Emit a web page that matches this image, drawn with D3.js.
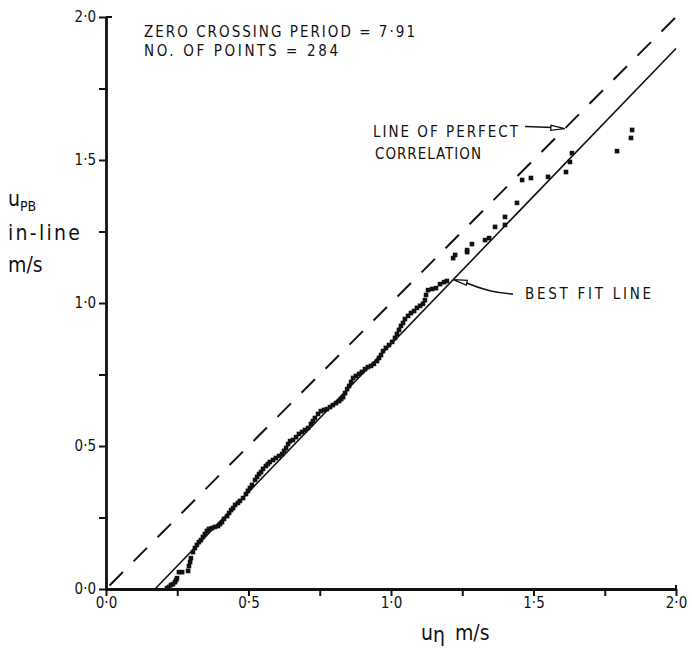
<!DOCTYPE html>
<html lang="en">
    <head>
        <meta charset="utf-8">
        <title>Particle velocity correlation</title>
        <script type="text/javascript" src="https://d3js.org/d3.v7.min.js"></script>
        <style>
            body {
                margin: 0;
                background: white;
            }
            text {
                font-family: "DejaVu Sans Condensed", "DejaVu Sans", sans-serif;
                fill: #111;
            }
            .axis path, .axis line {
                stroke: #111;
            }
            .axis path {
                stroke-width: 2.8;
            }
            .axis line {
                stroke-width: 2;
            }
            .axis text {
                font-size: 15px;
            }
            .perfectLine {
                stroke: #111;
                stroke-width: 2;
                stroke-dasharray: 19, 15;
                fill: none;
            }
            .fitLine {
                stroke: #111;
                stroke-width: 1.6;
                fill: none;
            }
            .note {
                font-size: 15px;
            }
        </style>
    </head>
    <body>
        <div id="svgContainer"></div>
        <script type="text/javascript">
            //svg size
            let w = 692;
            let h = 657;

            //measured velocity u_eta (m/s) and in-line PB velocity (m/s)
            let uEta = [0.214, 0.221, 0.228, 0.235, 0.242, 0.246, 0.249, 0.256, 0.267, 0.288,
                        0.291, 0.295, 0.298, 0.305, 0.312, 0.319, 0.326, 0.333, 0.340, 0.347,
                        0.354, 0.361, 0.372, 0.382, 0.393, 0.400, 0.407, 0.414, 0.425, 0.432,
                        0.439, 0.446, 0.453, 0.463, 0.470, 0.481, 0.491, 0.498, 0.505, 0.512,
                        0.523, 0.530, 0.537, 0.544, 0.551, 0.561, 0.568, 0.575, 0.586, 0.596,
                        0.607, 0.618, 0.625, 0.632, 0.639, 0.646, 0.656, 0.667, 0.677, 0.688,
                        0.698, 0.709, 0.719, 0.726, 0.733, 0.744, 0.754, 0.765, 0.775, 0.786,
                        0.796, 0.807, 0.818, 0.825, 0.832, 0.839, 0.846, 0.853, 0.860, 0.867,
                        0.877, 0.888, 0.898, 0.909, 0.919, 0.930, 0.940, 0.951, 0.958, 0.965,
                        0.972, 0.982, 0.993, 1.004, 1.014, 1.021, 1.028, 1.035, 1.042, 1.049,
                        1.060, 1.070, 1.081, 1.091, 1.102, 1.112, 1.119, 1.123, 1.130, 1.144,
                        1.158, 1.172, 1.186, 1.196, 1.218, 1.225, 1.267, 1.267, 1.284, 1.330,
                        1.344, 1.365, 1.400, 1.400, 1.442, 1.460, 1.491, 1.551, 1.614, 1.628,
                        1.635, 1.793, 1.842, 1.846];
            let uPB = [0.003, 0.007, 0.014, 0.017, 0.024, 0.031, 0.038, 0.059, 0.059, 0.063,
                       0.080, 0.094, 0.108, 0.129, 0.143, 0.154, 0.164, 0.171, 0.182, 0.192,
                       0.203, 0.210, 0.213, 0.217, 0.220, 0.227, 0.234, 0.245, 0.255, 0.266,
                       0.276, 0.283, 0.294, 0.301, 0.308, 0.318, 0.332, 0.343, 0.353, 0.364,
                       0.381, 0.392, 0.402, 0.409, 0.420, 0.430, 0.437, 0.444, 0.451, 0.458,
                       0.465, 0.472, 0.483, 0.493, 0.507, 0.517, 0.521, 0.531, 0.542, 0.549,
                       0.556, 0.563, 0.577, 0.587, 0.598, 0.612, 0.622, 0.626, 0.629, 0.636,
                       0.643, 0.650, 0.657, 0.664, 0.671, 0.685, 0.699, 0.710, 0.724, 0.738,
                       0.745, 0.752, 0.759, 0.769, 0.776, 0.780, 0.787, 0.797, 0.808, 0.818,
                       0.832, 0.843, 0.853, 0.864, 0.878, 0.892, 0.906, 0.920, 0.930, 0.944,
                       0.955, 0.965, 0.972, 0.983, 0.990, 0.997, 1.010, 1.028, 1.045, 1.049,
                       1.052, 1.066, 1.073, 1.077, 1.157, 1.168, 1.178, 1.185, 1.206, 1.220,
                       1.227, 1.266, 1.301, 1.273, 1.350, 1.430, 1.437, 1.441, 1.458, 1.493,
                       1.524, 1.531, 1.577, 1.605];

            //reference lines: perfect correlation and best fit (end points)
            let perfectLine = [[0, 0], [2, 2]];
            let fitLine = [[0.172, 0], [2, 1.89]];

            //tick values and labels
            let tickValues = [0, 0.25, 0.5, 0.75, 1, 1.25, 1.5, 1.75, 2];
            let tickLabels = {0: "0·0", 0.5: "0·5", 1: "1·0", 1.5: "1·5", 2: "2·0"};

            let dataset = uEta.map((d, i) => [d, uPB[i]]);

            let xScale = d3.scaleLinear().domain([0, 2]).range([106, 676]);
            let yScale = d3.scaleLinear().domain([0, 2]).range([589, 17]);

            let svg = d3.select("#svgContainer")
                        .append("svg")
                        .attr("width", w)
                        .attr("height", h);

            //axes
            let xAxis = d3.axisBottom(xScale)
                          .tickValues(tickValues)
                          .tickSize(7)
                          .tickSizeOuter(0)
                          .tickPadding(1)
                          .tickFormat(d => tickLabels[d] || "");
            let yAxis = d3.axisLeft(yScale)
                          .tickValues(tickValues)
                          .tickSize(7)
                          .tickSizeOuter(0)
                          .tickPadding(3)
                          .tickFormat(d => tickLabels[d] || "");

            svg.append("g")
                .attr("class", "axis")
                .attr("transform", `translate(0, ${yScale(0)})`)
                .call(xAxis);

            svg.append("g")
                .attr("class", "axis")
                .attr("transform", `translate(${xScale(0)}, 0)`)
                .call(yAxis);

            //short caps at the axis ends
            svg.append("line")
                .attr("x1", xScale(0)).attr("x2", xScale(0) + 6)
                .attr("y1", yScale(2)).attr("y2", yScale(2))
                .attr("stroke", "#111").attr("stroke-width", 2);
            svg.append("line")
                .attr("x1", xScale(2)).attr("x2", xScale(2))
                .attr("y1", yScale(0)).attr("y2", yScale(0) - 4)
                .attr("stroke", "#111").attr("stroke-width", 2);

            let line = d3.line().x(d => xScale(d[0])).y(d => yScale(d[1]));

            svg.append("path")
                .attr("class", "perfectLine")
                .attr("stroke-dashoffset", -5)
                .attr("d", line(perfectLine));

            svg.append("path")
                .attr("class", "fitLine")
                .attr("d", line(fitLine));

            //data points
            svg.selectAll("rect.pt")
                .data(dataset)
                .enter()
                .append("rect")
                .attr("class", "pt")
                .attr("x", d => xScale(d[0]) - 2.3)
                .attr("y", d => yScale(d[1]) - 2.3)
                .attr("width", 4.6)
                .attr("height", 4.6)
                .attr("fill", "#111");

            //header notes
            svg.append("text")
                .attr("class", "note")
                .attr("x", 144).attr("y", 37)
                .attr("textLength", 271)
                .text("ZERO CROSSING PERIOD = 7·91");
            svg.append("text")
                .attr("class", "note")
                .attr("x", 144).attr("y", 56)
                .attr("textLength", 194)
                .text("NO. OF POINTS = 284");

            //hollow arrow head helper
            const arrowHead = (tip, from, len, half) => {
                let dx = from[0] - tip[0], dy = from[1] - tip[1];
                let l = Math.hypot(dx, dy);
                let ux = dx / l, uy = dy / l;
                let bx = tip[0] + ux * len, by = tip[1] + uy * len;
                return `M${tip[0]},${tip[1]}L${bx - uy * half},${by + ux * half}L${bx + uy * half},${by - ux * half}Z`;
            };

            //line of perfect correlation note
            let pTip = [xScale(1.61), yScale(1.61)];
            let pFrom = [525, pTip[1] - 2];
            svg.append("path")
                .attr("d", `M${pFrom[0]},${pFrom[1]}L${pTip[0] - 12},${pTip[1] - 1}`)
                .attr("stroke", "#111").attr("stroke-width", 1.5).attr("fill", "none");
            svg.append("path")
                .attr("d", arrowHead(pTip, pFrom, 14, 2.5))
                .attr("stroke", "#111").attr("stroke-width", 1.3).attr("fill", "white");
            svg.append("text")
                .attr("class", "note")
                .attr("x", 373).attr("y", 137)
                .attr("textLength", 145)
                .text("LINE OF PERFECT");
            svg.append("text")
                .attr("class", "note")
                .attr("x", 375).attr("y", 159)
                .attr("textLength", 106)
                .text("CORRELATION");

            //best fit line note
            let fx = 1.218;
            let bTip = [xScale(fx), yScale((fx - fitLine[0][0]) * (fitLine[1][1] - fitLine[0][1]) / (fitLine[1][0] - fitLine[0][0]))];
            let bFrom = [513, 294];
            svg.append("path")
                .attr("d", `M${bFrom[0]},${bFrom[1]}Q${490},${293} ${bTip[0] + 13},${bTip[1] + 3}`)
                .attr("stroke", "#111").attr("stroke-width", 1.5).attr("fill", "none");
            svg.append("path")
                .attr("d", arrowHead(bTip, [bTip[0] + 40, bTip[1] + 9], 14, 2.5))
                .attr("stroke", "#111").attr("stroke-width", 1.3).attr("fill", "white");
            svg.append("text")
                .attr("class", "note")
                .attr("x", 525).attr("y", 299)
                .attr("textLength", 126)
                .text("BEST FIT LINE");

            //y axis title
            let yTitle = svg.append("text")
                .attr("x", 8).attr("y", 206)
                .style("font-size", "21px");
            yTitle.append("tspan").text("u");
            yTitle.append("tspan").attr("dy", 5).style("font-size", "14px").text("PB");
            svg.append("text")
                .attr("x", 8).attr("y", 240)
                .attr("textLength", 72)
                .style("font-size", "21px")
                .text("in-line");
            svg.append("text")
                .attr("x", 8).attr("y", 272)
                .style("font-size", "21px")
                .text("m/s");

            //x axis title
            let xTitle = svg.append("text")
                .attr("x", 421).attr("y", 640)
                .style("font-size", "21px");
            xTitle.append("tspan").text("u");
            xTitle.append("tspan").attr("dy", 2).text("η");
            xTitle.append("tspan").attr("dy", -2).attr("dx", 10).text("m/s");
        </script>
    </body>
</html>
